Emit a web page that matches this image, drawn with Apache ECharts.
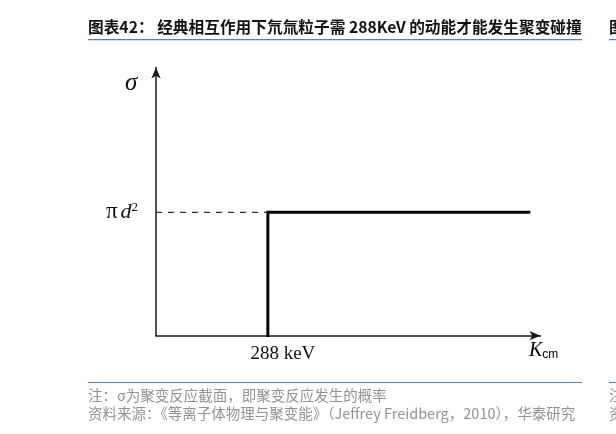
<!DOCTYPE html>
<html><head><meta charset="utf-8">
<script src="https://cdn.jsdelivr.net/npm/echarts@6/dist/echarts.min.js"></script>
<style>html,body{margin:0;padding:0;background:#fff}#c{width:616px;height:434px}</style>
</head><body><div id="c"></div>
<script>
// ---- data ----
const titleText = '图表42： 经典相互作用下氘氚粒子需 288KeV 的动能才能发生聚变碰撞';
const noteText = '注：σ为聚变反应截面，即聚变反应发生的概率';
const sourceText = '资料来源：《等离子体物理与聚变能》（Jeffrey Freidberg，2010），华泰研究';
const xTickValues = [288];              // keV threshold
const xTickLabels = ['288 keV'];
const yTickValues = [46];               // πd² level
const stepX = [288, 288, 960];
const stepY = [0, 46, 46];
const dashX = [0, 288];
const dashY = [46, 46];
const xRange = [0, 990];
const yRange = [0, 100];

const chart = echarts.init(document.getElementById('c'), null, {renderer: 'canvas'});
const serif = 'Liberation Serif';
const cjk = '"Noto Sans CJK SC", sans-serif';

chart.setOption({
  animation: false,
  backgroundColor: '#fff',
  grid: {left: 156, right: 75.5, top: 67.5, bottom: 98.3},
  xAxis: {
    type: 'value', min: xRange[0], max: xRange[1],
    axisLine: {show: true, onZero: false, symbol: ['none', 'arrow'], symbolSize: [7, 11],
      lineStyle: {color: '#1a1a1a', width: 1.5}},
    axisTick: {show: false}, splitLine: {show: false},
    axisLabel: {
      customValues: xTickValues,
      formatter: v => xTickLabels[xTickValues.indexOf(v)],
      fontFamily: serif, fontSize: 19, color: '#111', margin: 9,
      padding: [0, 0, 0, 30]
    }
  },
  yAxis: {
    type: 'value', min: yRange[0], max: yRange[1],
    axisLine: {show: true, onZero: false, symbol: ['none', 'arrow'], symbolSize: [7, 11],
      lineStyle: {color: '#1a1a1a', width: 1.5}},
    axisTick: {show: false}, splitLine: {show: false},
    axisLabel: {
      customValues: yTickValues,
      formatter: () => '{pi|π}{d|d}{sup|2}',
      margin: 18,
      rich: {
        pi: {fontFamily: serif, fontSize: 23, color: '#111', padding: [0, 3, 0, 0]},
        d: {fontFamily: serif, fontStyle: 'italic', fontSize: 22, color: '#111'},
        sup: {fontFamily: serif, fontSize: 13, color: '#111', padding: [0, 0, 10, 0]}
      }
    }
  },
  series: [
    {type: 'line', data: dashX.map((x, i) => [x, dashY[i]]), symbol: 'none',
      lineStyle: {color: '#333', width: 1.2, type: [6, 6]}, z: 1},
    {type: 'line', data: stepX.map((x, i) => [x, stepY[i]]), symbol: 'none',
      lineStyle: {color: '#000', width: 3, cap: 'square', join: 'miter'}, z: 2}
  ],
  graphic: [
    {type: 'text', x: 88, y: 19, style: {text: titleText, font: 'bold 15.7px ' + cjk, fill: '#111'}},
    {type: 'rect', shape: {x: 88, y: 39, width: 494, height: 1.2}, style: {fill: '#5a7fb5'}},
    {type: 'rect', shape: {x: 609, y: 39, width: 10, height: 1.2}, style: {fill: '#5a7fb5'}},
    {type: 'text', x: 609, y: 19, style: {text: '图', font: 'bold 15.7px ' + cjk, fill: '#111'}},
    {type: 'text', x: 125, y: 71, style: {text: 'σ', font: 'italic 25px ' + serif, fill: '#111'}},
    {type: 'text', x: 529, y: 341, style: {
      text: '{k|K}{cm|cm}',
      rich: {
        k: {fontFamily: serif, fontStyle: 'italic', fontSize: 20, color: '#111'},
        cm: {fontFamily: 'Liberation Sans Narrow, Liberation Sans', fontSize: 12, color: '#111', padding: [8, 0, 0, 0]}
      }}},
    {type: 'rect', shape: {x: 88, y: 382, width: 494, height: 1}, style: {fill: '#5a7fb5'}},
    {type: 'rect', shape: {x: 609, y: 382, width: 10, height: 1}, style: {fill: '#5a7fb5'}},
    {type: 'text', x: 88, y: 388, style: {text: noteText, font: '14.5px ' + cjk, fill: '#939393'}},
    {type: 'text', x: 88, y: 406, style: {text: sourceText, font: '14.5px ' + cjk, fill: '#939393'}},
    {type: 'text', x: 609, y: 388, style: {text: '注', font: '14.5px ' + cjk, fill: '#939393'}},
    {type: 'text', x: 609, y: 406, style: {text: '资', font: '14.5px ' + cjk, fill: '#939393'}}
  ]
});
</script></body></html>
